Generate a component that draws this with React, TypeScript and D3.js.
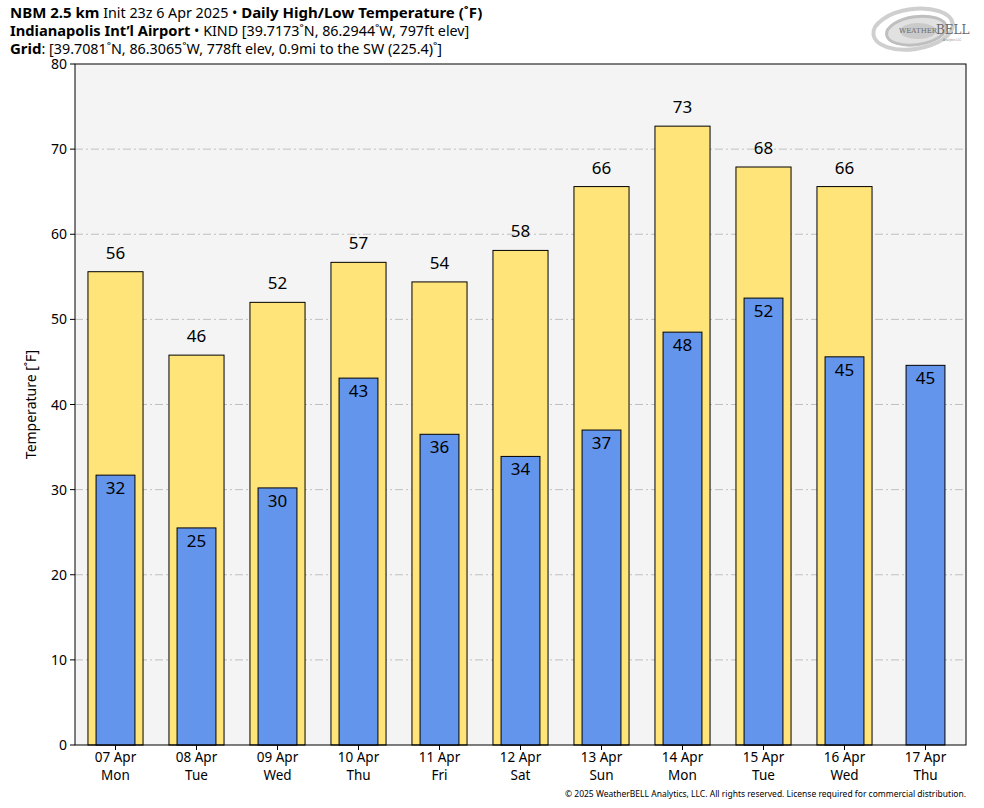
import React from "react";
import * as d3 from "d3";

const categories = ["07 Apr|Mon", "08 Apr|Tue", "09 Apr|Wed", "10 Apr|Thu", "11 Apr|Fri", "12 Apr|Sat", "13 Apr|Sun", "14 Apr|Mon", "15 Apr|Tue", "16 Apr|Wed", "17 Apr|Thu"];
const highs: (number | null)[] = [55.6, 45.8, 52.0, 56.7, 54.4, 58.1, 65.6, 72.7, 67.9, 65.6, null];
const highLabels: (string | null)[] = ["56", "46", "52", "57", "54", "58", "66", "73", "68", "66", null];
const lows = [31.7, 25.5, 30.2, 43.1, 36.5, 33.9, 37.0, 48.5, 52.5, 45.6, 44.6];
const lowLabels = ["32", "25", "30", "43", "36", "34", "37", "48", "52", "45", "45"];
const yTicks = [0, 10, 20, 30, 40, 50, 60, 70, 80];

const W = 984, H = 808;
const L = 75, R = 966, T = 64, B = 745;
const FONT = "'Noto Sans', 'Open Sans', sans-serif";

export default function App() {
  const x = d3.scaleBand<string>().domain(categories).range([L, R]).padding(0);
  const y = d3.scaleLinear().domain([0, 80]).range([B, T]);
  const bw = x.bandwidth();
  const hw = bw * 0.68;
  const lw = bw * 0.48;
  return (
    <svg width={W} height={H} style={{ position: "absolute", left: 0, top: 0, fontFamily: FONT }}>
      <rect x={0} y={0} width={W} height={H} fill="#fff" />
      <text x={10} y={18} fontSize={15} fill="#000">
        <tspan fontWeight="bold">NBM 2.5 km</tspan>
        <tspan fontSize={14.3}> Init 23z 6 Apr 2025 • </tspan>
        <tspan fontWeight="bold">Daily High/Low Temperature (˚F)</tspan>
      </text>
      <text x={10} y={36} fontSize={15} fill="#000">
        <tspan fontWeight="bold" fontSize={14.7}>Indianapolis Int’l Airport</tspan>
        <tspan fontSize={14.3}> • KIND [39.7173˚N, 86.2944˚W, 797ft elev]</tspan>
      </text>
      <text x={10} y={54} fontSize={15} fill="#000">
        <tspan fontWeight="bold">Grid</tspan>
        <tspan fontSize={14.3}>: [39.7081˚N, 86.3065˚W, 778ft elev, 0.9mi to the SW (225.4)˚]</tspan>
      </text>
      {/* logo */}
      <g transform="translate(921,28)" opacity={0.8}>
        <ellipse cx={-8} cy={0} rx={40} ry={20} fill="none" stroke="#c4c4c4" strokeWidth={4} transform="rotate(-8)" />
        <ellipse cx={-5} cy={2} rx={30} ry={14} fill="#dadada" stroke="#b0b0b0" strokeWidth={3} transform="rotate(-8)" />
        <ellipse cx={-3} cy={3} rx={18} ry={8} fill="#bdbdbd" />
        <text x={-22} y={5} fontSize={7} fontFamily="'DejaVu Serif', serif" fill="#444">WEATHER</text>
        <text x={15} y={6} fontSize={12} fontFamily="'DejaVu Serif', serif" fill="#444">BELL</text>
        <text x={22} y={13} fontSize={3} fill="#666">Analytics LLC</text>
      </g>
      <rect x={L} y={T} width={R - L} height={B - T} fill="#f4f4f4" />
      {yTicks.filter(t => t > 0 && t < 80).map(t => (
        <line key={t} x1={L} x2={R} y1={y(t)} y2={y(t)} stroke="#c0c0c0" strokeWidth={1} strokeDasharray="8,3,2,3" />
      ))}
      {categories.map((c, i) => {
        const cx = (x(c) as number) + bw / 2;
        const h = highs[i];
        return (
          <g key={c}>
            {h !== null && (
              <rect x={cx - hw / 2} y={y(h)} width={hw} height={B - y(h)} fill="#ffe47a" stroke="#000" strokeWidth={1} />
            )}
            <rect x={cx - lw / 2} y={y(lows[i])} width={lw} height={B - y(lows[i])} fill="#6495ed" stroke="#000" strokeWidth={1} />
            {h !== null && (
              <text x={cx} y={y(h) - 13} textAnchor="middle" fontSize={17} fill="#000">{highLabels[i]}</text>
            )}
            <text x={cx} y={y(lows[i]) + 19} textAnchor="middle" fontSize={17} fill="#000">{lowLabels[i]}</text>
            <line x1={cx} x2={cx} y1={B} y2={B + 5} stroke="#000" />
            <text x={cx} y={B + 17} textAnchor="middle" fontSize={13.5} fill="#000">{c.split("|")[0]}</text>
            <text x={cx} y={B + 35} textAnchor="middle" fontSize={13.5} fill="#000">{c.split("|")[1]}</text>
          </g>
        );
      })}
      <rect x={L} y={T} width={R - L} height={B - T} fill="none" stroke="#000" strokeWidth={1} />
      {yTicks.map(t => (
        <g key={t}>
          <line x1={L - 5} x2={L} y1={y(t)} y2={y(t)} stroke="#000" />
          <text x={L - 8} y={y(t) + 5} textAnchor="end" fontSize={14} fill="#000">{t}</text>
        </g>
      ))}
      <text transform={`translate(36,${(T + B) / 2}) rotate(-90)`} textAnchor="middle" fontSize={14} fill="#000">Temperature [˚F]</text>
      <text x={966} y={797} textAnchor="end" fontSize={8.5} fill="#000">© 2025 WeatherBELL Analytics, LLC. All rights reserved. License required for commercial distribution.</text>
    </svg>
  );
}
